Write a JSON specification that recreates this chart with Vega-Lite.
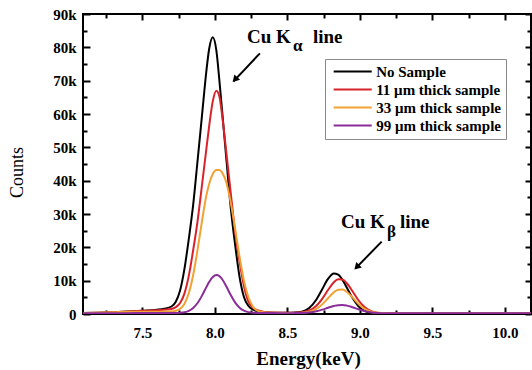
{
  "$schema": "https://vega.github.io/schema/vega-lite/v6.json",
  "width": 448,
  "height": 300,
  "autosize": "none",
  "padding": {"left": 83, "top": 14, "right": 1, "bottom": 56},
  "background": "white",
  "config": {"view": {"stroke": "black", "strokeWidth": 2}, "font": "Liberation Serif"},
  "datasets": {
    "spectra": [
      {"E":7.09,"s":"No Sample","c":300},{"E":7.2,"s":"No Sample","c":400},{"E":7.3,"s":"No Sample","c":550},{"E":7.4,"s":"No Sample","c":750},{"E":7.5,"s":"No Sample","c":1000},{"E":7.6,"s":"No Sample","c":1300},{"E":7.65,"s":"No Sample","c":1600},{"E":7.7,"s":"No Sample","c":2250},{"E":7.73,"s":"No Sample","c":3700},{"E":7.76,"s":"No Sample","c":7100},{"E":7.79,"s":"No Sample","c":13600},{"E":7.82,"s":"No Sample","c":22600},{"E":7.85,"s":"No Sample","c":32800},{"E":7.88,"s":"No Sample","c":45900},{"E":7.91,"s":"No Sample","c":59200},{"E":7.94,"s":"No Sample","c":72500},{"E":7.96,"s":"No Sample","c":79500},{"E":7.985,"s":"No Sample","c":83000},{"E":8.01,"s":"No Sample","c":79000},{"E":8.03,"s":"No Sample","c":70400},{"E":8.05,"s":"No Sample","c":60700},{"E":8.08,"s":"No Sample","c":45900},{"E":8.11,"s":"No Sample","c":31500},{"E":8.14,"s":"No Sample","c":20500},{"E":8.17,"s":"No Sample","c":11100},{"E":8.2,"s":"No Sample","c":5100},{"E":8.23,"s":"No Sample","c":2500},{"E":8.26,"s":"No Sample","c":1370},{"E":8.3,"s":"No Sample","c":800},{"E":8.35,"s":"No Sample","c":500},{"E":8.4,"s":"No Sample","c":400},{"E":8.5,"s":"No Sample","c":360},{"E":8.55,"s":"No Sample","c":420},{"E":8.6,"s":"No Sample","c":720},{"E":8.65,"s":"No Sample","c":1790},{"E":8.7,"s":"No Sample","c":4340},{"E":8.74,"s":"No Sample","c":7440},{"E":8.78,"s":"No Sample","c":10520},{"E":8.82,"s":"No Sample","c":12150},{"E":8.85,"s":"No Sample","c":11830},{"E":8.88,"s":"No Sample","c":10230},{"E":8.91,"s":"No Sample","c":7900},{"E":8.95,"s":"No Sample","c":4700},{"E":8.99,"s":"No Sample","c":2330},{"E":9.03,"s":"No Sample","c":1020},{"E":9.07,"s":"No Sample","c":450},{"E":9.12,"s":"No Sample","c":240},{"E":9.2,"s":"No Sample","c":200},{"E":9.3,"s":"No Sample","c":180},{"E":9.5,"s":"No Sample","c":150},{"E":9.7,"s":"No Sample","c":150},{"E":9.9,"s":"No Sample","c":140},{"E":10.18,"s":"No Sample","c":140},
      {"E":7.09,"s":"11 μm thick sample","c":300},{"E":7.2,"s":"11 μm thick sample","c":400},{"E":7.3,"s":"11 μm thick sample","c":550},{"E":7.4,"s":"11 μm thick sample","c":750},{"E":7.5,"s":"11 μm thick sample","c":950},{"E":7.6,"s":"11 μm thick sample","c":1150},{"E":7.65,"s":"11 μm thick sample","c":1300},{"E":7.7,"s":"11 μm thick sample","c":1500},{"E":7.73,"s":"11 μm thick sample","c":2050},{"E":7.76,"s":"11 μm thick sample","c":3300},{"E":7.79,"s":"11 μm thick sample","c":6200},{"E":7.82,"s":"11 μm thick sample","c":11500},{"E":7.85,"s":"11 μm thick sample","c":19200},{"E":7.88,"s":"11 μm thick sample","c":27800},{"E":7.91,"s":"11 μm thick sample","c":38400},{"E":7.94,"s":"11 μm thick sample","c":49200},{"E":7.96,"s":"11 μm thick sample","c":56300},{"E":7.985,"s":"11 μm thick sample","c":63800},{"E":8.01,"s":"11 μm thick sample","c":67000},{"E":8.03,"s":"11 μm thick sample","c":65400},{"E":8.05,"s":"11 μm thick sample","c":59500},{"E":8.08,"s":"11 μm thick sample","c":47900},{"E":8.11,"s":"11 μm thick sample","c":35900},{"E":8.14,"s":"11 μm thick sample","c":24400},{"E":8.17,"s":"11 μm thick sample","c":15700},{"E":8.2,"s":"11 μm thick sample","c":8400},{"E":8.23,"s":"11 μm thick sample","c":3800},{"E":8.26,"s":"11 μm thick sample","c":2000},{"E":8.3,"s":"11 μm thick sample","c":1050},{"E":8.35,"s":"11 μm thick sample","c":550},{"E":8.4,"s":"11 μm thick sample","c":420},{"E":8.5,"s":"11 μm thick sample","c":350},{"E":8.55,"s":"11 μm thick sample","c":380},{"E":8.6,"s":"11 μm thick sample","c":510},{"E":8.65,"s":"11 μm thick sample","c":1040},{"E":8.7,"s":"11 μm thick sample","c":2490},{"E":8.74,"s":"11 μm thick sample","c":4560},{"E":8.78,"s":"11 μm thick sample","c":7190},{"E":8.82,"s":"11 μm thick sample","c":9540},{"E":8.85,"s":"11 μm thick sample","c":10460},{"E":8.88,"s":"11 μm thick sample","c":10340},{"E":8.91,"s":"11 μm thick sample","c":9220},{"E":8.95,"s":"11 μm thick sample","c":6740},{"E":8.99,"s":"11 μm thick sample","c":4130},{"E":9.03,"s":"11 μm thick sample","c":2160},{"E":9.07,"s":"11 μm thick sample","c":1000},{"E":9.12,"s":"11 μm thick sample","c":400},{"E":9.2,"s":"11 μm thick sample","c":210},{"E":9.3,"s":"11 μm thick sample","c":180},{"E":9.5,"s":"11 μm thick sample","c":150},{"E":9.7,"s":"11 μm thick sample","c":150},{"E":9.9,"s":"11 μm thick sample","c":140},{"E":10.18,"s":"11 μm thick sample","c":140},
      {"E":7.09,"s":"33 μm thick sample","c":300},{"E":7.2,"s":"33 μm thick sample","c":380},{"E":7.3,"s":"33 μm thick sample","c":500},{"E":7.4,"s":"33 μm thick sample","c":650},{"E":7.5,"s":"33 μm thick sample","c":700},{"E":7.6,"s":"33 μm thick sample","c":700},{"E":7.65,"s":"33 μm thick sample","c":720},{"E":7.7,"s":"33 μm thick sample","c":760},{"E":7.73,"s":"33 μm thick sample","c":950},{"E":7.76,"s":"33 μm thick sample","c":1560},{"E":7.79,"s":"33 μm thick sample","c":3100},{"E":7.82,"s":"33 μm thick sample","c":6290},{"E":7.85,"s":"33 μm thick sample","c":11690},{"E":7.88,"s":"33 μm thick sample","c":19220},{"E":7.91,"s":"33 μm thick sample","c":27650},{"E":7.94,"s":"33 μm thick sample","c":35360},{"E":7.96,"s":"33 μm thick sample","c":39000},{"E":7.985,"s":"33 μm thick sample","c":42000},{"E":8.01,"s":"33 μm thick sample","c":43200},{"E":8.03,"s":"33 μm thick sample","c":43200},{"E":8.05,"s":"33 μm thick sample","c":42400},{"E":8.08,"s":"33 μm thick sample","c":39200},{"E":8.11,"s":"33 μm thick sample","c":33200},{"E":8.14,"s":"33 μm thick sample","c":25400},{"E":8.17,"s":"33 μm thick sample","c":17100},{"E":8.2,"s":"33 μm thick sample","c":10000},{"E":8.23,"s":"33 μm thick sample","c":5100},{"E":8.26,"s":"33 μm thick sample","c":2350},{"E":8.3,"s":"33 μm thick sample","c":860},{"E":8.35,"s":"33 μm thick sample","c":450},{"E":8.4,"s":"33 μm thick sample","c":380},{"E":8.5,"s":"33 μm thick sample","c":300},{"E":8.55,"s":"33 μm thick sample","c":310},{"E":8.6,"s":"33 μm thick sample","c":370},{"E":8.65,"s":"33 μm thick sample","c":660},{"E":8.7,"s":"33 μm thick sample","c":1540},{"E":8.74,"s":"33 μm thick sample","c":2890},{"E":8.78,"s":"33 μm thick sample","c":4730},{"E":8.82,"s":"33 μm thick sample","c":6490},{"E":8.85,"s":"33 μm thick sample","c":7270},{"E":8.88,"s":"33 μm thick sample","c":7330},{"E":8.91,"s":"33 μm thick sample","c":6620},{"E":8.95,"s":"33 μm thick sample","c":4900},{"E":8.99,"s":"33 μm thick sample","c":3030},{"E":9.03,"s":"33 μm thick sample","c":1600},{"E":9.07,"s":"33 μm thick sample","c":760},{"E":9.12,"s":"33 μm thick sample","c":340},{"E":9.2,"s":"33 μm thick sample","c":210},{"E":9.3,"s":"33 μm thick sample","c":180},{"E":9.5,"s":"33 μm thick sample","c":150},{"E":9.7,"s":"33 μm thick sample","c":150},{"E":9.9,"s":"33 μm thick sample","c":140},{"E":10.18,"s":"33 μm thick sample","c":140},
      {"E":7.09,"s":"99 μm thick sample","c":200},{"E":7.2,"s":"99 μm thick sample","c":200},{"E":7.3,"s":"99 μm thick sample","c":250},{"E":7.4,"s":"99 μm thick sample","c":250},{"E":7.5,"s":"99 μm thick sample","c":300},{"E":7.6,"s":"99 μm thick sample","c":300},{"E":7.65,"s":"99 μm thick sample","c":300},{"E":7.7,"s":"99 μm thick sample","c":310},{"E":7.73,"s":"99 μm thick sample","c":320},{"E":7.76,"s":"99 μm thick sample","c":380},{"E":7.79,"s":"99 μm thick sample","c":550},{"E":7.82,"s":"99 μm thick sample","c":960},{"E":7.85,"s":"99 μm thick sample","c":1810},{"E":7.88,"s":"99 μm thick sample","c":3290},{"E":7.91,"s":"99 μm thick sample","c":5440},{"E":7.94,"s":"99 μm thick sample","c":7990},{"E":7.96,"s":"99 μm thick sample","c":9600},{"E":7.985,"s":"99 μm thick sample","c":11110},{"E":8.01,"s":"99 μm thick sample","c":11700},{"E":8.03,"s":"99 μm thick sample","c":11380},{"E":8.05,"s":"99 μm thick sample","c":10420},{"E":8.08,"s":"99 μm thick sample","c":8160},{"E":8.11,"s":"99 μm thick sample","c":5600},{"E":8.14,"s":"99 μm thick sample","c":3400},{"E":8.17,"s":"99 μm thick sample","c":1880},{"E":8.2,"s":"99 μm thick sample","c":1000},{"E":8.23,"s":"99 μm thick sample","c":570},{"E":8.26,"s":"99 μm thick sample","c":390},{"E":8.3,"s":"99 μm thick sample","c":320},{"E":8.35,"s":"99 μm thick sample","c":300},{"E":8.4,"s":"99 μm thick sample","c":280},{"E":8.5,"s":"99 μm thick sample","c":250},{"E":8.55,"s":"99 μm thick sample","c":265},{"E":8.6,"s":"99 μm thick sample","c":315},{"E":8.65,"s":"99 μm thick sample","c":470},{"E":8.7,"s":"99 μm thick sample","c":830},{"E":8.74,"s":"99 μm thick sample","c":1300},{"E":8.78,"s":"99 μm thick sample","c":1880},{"E":8.82,"s":"99 μm thick sample","c":2410},{"E":8.85,"s":"99 μm thick sample","c":2650},{"E":8.88,"s":"99 μm thick sample","c":2690},{"E":8.91,"s":"99 μm thick sample","c":2510},{"E":8.95,"s":"99 μm thick sample","c":2020},{"E":8.99,"s":"99 μm thick sample","c":1420},{"E":9.03,"s":"99 μm thick sample","c":900},{"E":9.07,"s":"99 μm thick sample","c":530},{"E":9.12,"s":"99 μm thick sample","c":310},{"E":9.2,"s":"99 μm thick sample","c":210},{"E":9.3,"s":"99 μm thick sample","c":200},{"E":9.5,"s":"99 μm thick sample","c":200},{"E":9.7,"s":"99 μm thick sample","c":200},{"E":9.9,"s":"99 μm thick sample","c":200},{"E":10.18,"s":"99 μm thick sample","c":200}
    ],
    "leftText": [
      {"E":8.524,"c":81200,"t":"Cu K"},
      {"E":9.172,"c":25700,"t":"Cu K"}
    ],
    "rightText": [
      {"E":8.676,"c":81200,"t":"line"},
      {"E":9.276,"c":25700,"t":"line"}
    ],
    "subText": [
      {"E":8.538,"c":79000,"t":"α"},
      {"E":9.186,"c":23200,"t":"β"}
    ],
    "arrows": [
      {"E":8.310,"c":78200,"E2":8.128,"c2":69800},
      {"E":9.150,"c":21700,"E2":8.97,"c2":13700}
    ],
    "heads": [
      {"E":8.138,"c":70350,"ang":223},
      {"E":8.978,"c":14070,"ang":224}
    ]
  },
  "resolve": {"axis": {"x": "independent", "y": "independent"}},
  "layer": [
    {
      "data": {"name": "spectra"},
      "mark": {"type": "line", "strokeWidth": 2, "interpolate": "monotone", "clip": true},
      "encoding": {
        "x": {
          "field": "E", "type": "quantitative",
          "scale": {"domain": [7.09, 10.18], "nice": false, "zero": false},
          "axis": {
            "orient": "bottom",
            "values": [7.25,7.5,7.75,8.0,8.25,8.5,8.75,9.0,9.25,9.5,9.75,10.0],
            "labelExpr": "datum.value % 0.5 === 0 ? format(datum.value, '.1f') : ''",
            "tickSize": {"condition": {"test": "datum.value % 0.5 !== 0", "value": -4}, "value": -7},
            "tickColor": "black", "tickWidth": 2,
            "domain": false, "grid": false, "labelOverlap": false, "labelFlush": false,
            "labelFont": "Liberation Serif", "labelFontWeight": "bold", "labelFontSize": 15, "labelColor": "black",
            "labelPadding": 18,
            "title": "Energy(keV)", "titleFont": "Liberation Serif", "titleFontWeight": "bold", "titleFontSize": 19,
            "titleColor": "black", "titleX": 225, "titleY": 44, "titleBaseline": "middle", "titleAlign": "center"
          }
        },
        "y": {
          "field": "c", "type": "quantitative",
          "scale": {"domain": [0, 90000], "nice": false},
          "axis": {
            "orient": "left",
            "values": [0,5000,10000,15000,20000,25000,30000,35000,40000,45000,50000,55000,60000,65000,70000,75000,80000,85000,90000],
            "labelExpr": "datum.value % 10000 === 0 ? (datum.value === 0 ? '0' : (datum.value / 1000) + 'k') : ''",
            "tickSize": {"condition": {"test": "datum.value % 10000 !== 0", "value": -4}, "value": -7},
            "tickColor": "black", "tickWidth": 2,
            "domain": false, "grid": false, "labelOverlap": false, "labelFlush": false,
            "labelFont": "Liberation Serif", "labelFontWeight": "bold", "labelFontSize": 15, "labelColor": "black",
            "labelPadding": 14,
            "title": "Counts", "titleFont": "Liberation Serif", "titleFontWeight": "normal", "titleFontSize": 18,
            "titleColor": "black", "titleX": -66, "titleY": 158, "titleAngle": -90, "titleBaseline": "middle", "titleAlign": "center"
          }
        },
        "color": {
          "field": "s", "type": "nominal",
          "scale": {
            "domain": ["No Sample", "11 μm thick sample", "33 μm thick sample", "99 μm thick sample"],
            "range": ["#000000", "#d8232a", "#f2a233", "#8a2d98"]
          },
          "legend": {
            "orient": "none", "legendX": 242, "legendY": 45, "title": null,
            "symbolType": "M-5,0H5", "symbolSize": 58, "symbolStrokeWidth": 2, "symbolOffset": 15.2,
            "labelFont": "Liberation Serif", "labelFontWeight": "bold", "labelFontSize": 15, "labelColor": "black",
            "labelOffset": 16, "labelLimit": 300,
            "strokeColor": "#8a8a8a", "fillColor": "white", "padding": 5, "rowPadding": 2
          }
        }
      }
    },
    {
      "data": {"name": "spectra"},
      "mark": {"type": "point", "opacity": 0},
      "encoding": {
        "x": {
          "field": "E", "type": "quantitative",
          "axis": {
            "orient": "top",
            "values": [7.25,7.5,7.75,8.0,8.25,8.5,8.75,9.0,9.25,9.5,9.75,10.0],
            "labels": false, "title": null, "domain": false, "grid": false,
            "tickSize": {"condition": {"test": "datum.value % 0.5 !== 0", "value": -4}, "value": -6},
            "tickColor": "black", "tickWidth": 2
          }
        },
        "y": {
          "field": "c", "type": "quantitative",
          "axis": {
            "orient": "right",
            "values": [0,5000,10000,15000,20000,25000,30000,35000,40000,45000,50000,55000,60000,65000,70000,75000,80000,85000,90000],
            "labels": false, "title": null, "domain": false, "grid": false,
            "tickSize": {"condition": {"test": "datum.value % 10000 !== 0", "value": -4}, "value": -6},
            "tickColor": "black", "tickWidth": 2
          }
        }
      }
    },
    {
      "data": {"name": "leftText"},
      "mark": {"type": "text", "font": "Liberation Serif", "fontWeight": "bold", "fontSize": 19, "baseline": "alphabetic", "align": "right", "color": "black"},
      "encoding": {
        "x": {"field": "E", "type": "quantitative", "axis": null},
        "y": {"field": "c", "type": "quantitative", "axis": null},
        "text": {"field": "t"}
      }
    },
    {
      "data": {"name": "rightText"},
      "mark": {"type": "text", "font": "Liberation Serif", "fontWeight": "bold", "fontSize": 19, "baseline": "alphabetic", "align": "left", "color": "black"},
      "encoding": {
        "x": {"field": "E", "type": "quantitative", "axis": null},
        "y": {"field": "c", "type": "quantitative", "axis": null},
        "text": {"field": "t"}
      }
    },
    {
      "data": {"name": "subText"},
      "mark": {"type": "text", "font": "Liberation Serif", "fontWeight": "bold", "fontSize": 17, "baseline": "alphabetic", "align": "left", "color": "black"},
      "encoding": {
        "x": {"field": "E", "type": "quantitative", "axis": null},
        "y": {"field": "c", "type": "quantitative", "axis": null},
        "text": {"field": "t"}
      }
    },
    {
      "data": {"name": "arrows"},
      "mark": {"type": "rule", "strokeWidth": 2, "color": "black"},
      "encoding": {
        "x": {"field": "E", "type": "quantitative", "axis": null},
        "y": {"field": "c", "type": "quantitative", "axis": null},
        "x2": {"field": "E2"},
        "y2": {"field": "c2"}
      }
    },
    {
      "data": {"name": "heads"},
      "mark": {"type": "point", "shape": "triangle-up", "filled": true, "size": 60, "color": "black", "opacity": 1},
      "encoding": {
        "x": {"field": "E", "type": "quantitative", "axis": null},
        "y": {"field": "c", "type": "quantitative", "axis": null},
        "angle": {"field": "ang", "type": "quantitative", "scale": null}
      }
    }
  ]
}
